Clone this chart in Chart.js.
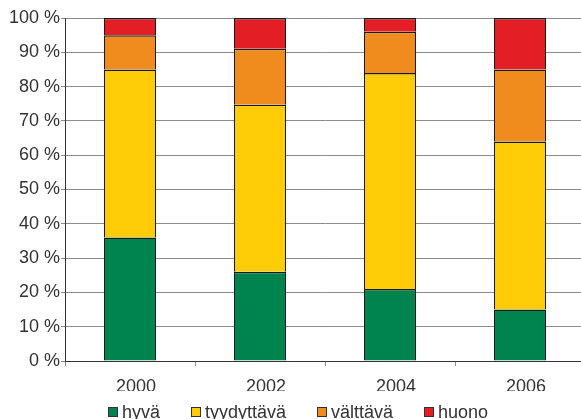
<!DOCTYPE html>
<html>
<head>
<meta charset="utf-8">
<script src="https://cdn.jsdelivr.net/npm/chart.js@4"></script>
<style>
  html, body { margin: 0; padding: 0; background: #fff; overflow: hidden; }
  #wrap { width: 585px; height: 419px; }
</style>
</head>
<body>
<div id="wrap"><canvas id="c" width="585" height="419"></canvas></div>
<script>
// Survey years
const years = ['2000', '2002', '2004', '2006'];

// Share of each condition class, % of total per year
const hyva = [36, 26, 21, 15];
const tyydyttava = [49, 48.7, 63, 49];
const valttava = [10, 16.3, 12, 21];
const huono = [5, 9, 4, 15];

// Series names shown in the legend
const seriesNames = ['hyvä', 'tyydyttävä', 'välttävä', 'huono'];

// Percent axis ticks
const percentTicks = [0, 10, 20, 30, 40, 50, 60, 70, 80, 90, 100];

const FONT = '"Liberation Sans", Arial, sans-serif';
const TEXT = '#333333';

const colors = ['#00844f', '#ffcc08', '#f08c1e', '#e31e24'];

function ds(label, data, color) {
  return {
    label: label,
    data: data,
    backgroundColor: color,
    borderColor: '#1a1a1a',
    // one outline per segment: boundaries between stacked segments stay thin
    borderWidth: { top: 1.5, left: 1, right: 1, bottom: 0 },
    borderSkipped: false,
    barPercentage: 0.4,
    categoryPercentage: 1.0
  };
}

// Legend drawn as a compact row below the axis labels
const bottomLegend = {
  id: 'bottomLegend',
  afterDraw(chart) {
    const ctx = chart.ctx;
    const box = 10, gapText = 4, gapItem = 31;
    ctx.save();
    ctx.font = '18px ' + FONT;
    ctx.textBaseline = 'alphabetic';
    ctx.textAlign = 'left';
    let x = 108;
    const baseY = 418;
    chart.data.datasets.forEach(d => {
      const bx = Math.round(x);
      ctx.fillStyle = d.backgroundColor;
      ctx.fillRect(bx, 407, box, box);
      ctx.strokeStyle = '#333';
      ctx.lineWidth = 1;
      ctx.strokeRect(bx + 0.5, 407.5, box - 1, box - 1);
      ctx.fillStyle = TEXT;
      ctx.fillText(d.label, bx + box + gapText, baseY);
      x += box + gapText + ctx.measureText(d.label).width + gapItem;
    });
    ctx.restore();
  }
};

new Chart(document.getElementById('c'), {
  type: 'bar',
  data: {
    labels: years,
    datasets: [
      ds(seriesNames[0], hyva, colors[0]),
      ds(seriesNames[1], tyydyttava, colors[1]),
      ds(seriesNames[2], valttava, colors[2]),
      ds(seriesNames[3], huono, colors[3])
    ]
  },
  options: {
    responsive: false,
    animation: false,
    devicePixelRatio: 1,
    layout: { padding: { top: 18, bottom: 28, left: 0, right: 0 } },
    plugins: {
      legend: { display: false },
      tooltip: { enabled: false }
    },
    scales: {
      x: {
        stacked: true,
        grid: {
          display: true,
          drawOnChartArea: false,
          drawTicks: true,
          tickLength: 5,
          color: '#8c8c8c',
          offset: true
        },
        border: { display: true, color: '#333333', width: 1 },
        ticks: {
          color: TEXT,
          font: { family: FONT, size: 18 },
          padding: 10,
          labelOffset: 6,
          maxRotation: 0
        },
        afterFit(scale) { scale.height = 30; }
      },
      y: {
        stacked: true,
        min: 0,
        max: 100,
        afterBuildTicks(scale) {
          scale.ticks = percentTicks.map(v => ({ value: v }));
        },
        grid: {
          color: '#8c8c8c',
          lineWidth: 1,
          drawTicks: true,
          tickLength: 4
        },
        border: { display: true, color: '#333333', width: 1 },
        ticks: {
          color: TEXT,
          font: { family: FONT, size: 18 },
          padding: 1,
          callback: v => v + ' %'
        },
        afterFit(scale) { scale.width = 65; }
      }
    }
  },
  plugins: [bottomLegend]
});
</script>
</body>
</html>
